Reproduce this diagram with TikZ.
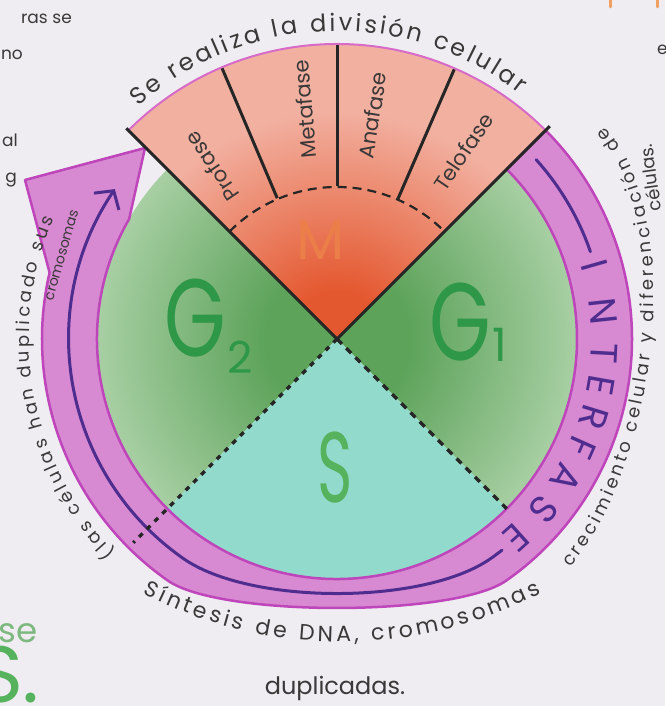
\documentclass[tikz,border=0pt]{standalone}
\usepackage{fontspec}
\setmainfont{Poppins}
\usetikzlibrary{decorations.text,arrows.meta,calc}
\definecolor{paper}{HTML}{F0EDF2}
\definecolor{ink}{HTML}{3A3838}
\definecolor{Mlight}{HTML}{F2B0A0}
\definecolor{Mdark}{HTML}{E4582F}
\definecolor{Gdark}{HTML}{5DA35A}
\definecolor{Glight}{HTML}{D2E8CD}
\definecolor{Scol}{HTML}{92DBCC}
\definecolor{Sedge}{HTML}{A6E2D6}
\definecolor{ringfill}{HTML}{D78AD2}
\definecolor{ringedge}{HTML}{BE45BA}
\definecolor{arrowink}{HTML}{4F2D8E}
\definecolor{pinkarc}{HTML}{D66BC8}
\definecolor{Glabel}{HTML}{2E9748}
\definecolor{Slabel}{HTML}{56B25C}
\definecolor{Mlabel}{HTML}{EC7E4A}
\definecolor{fadegreen}{HTML}{7DB87F}
\definecolor{orangemark}{HTML}{F0A060}
\pgfdeclareradialshading{mshade}{\pgfpointorigin}{color(0bp)=(Mdark); color(4bp)=(Mdark); color(19bp)=(Mlight); color(50bp)=(Mlight)}
\pgfdeclareradialshading{gshade}{\pgfpointorigin}{color(0bp)=(Gdark); color(6bp)=(Gdark); color(28bp)=(Glight); color(50bp)=(Glight)}
\pgfdeclareradialshading{sshade}{\pgfpointorigin}{color(0bp)=(Scol); color(30bp)=(Scol); color(40bp)=(Sedge); color(50bp)=(Sedge)}
\newcommand\hwa{\fontsize{24}{28}\selectfont}
\newcommand\hwb{\fontsize{18}{21}\selectfont}
\newcommand\hwc{\fontsize{14}{17}\selectfont}
\newcommand\hwd{\fontsize{22}{26}\selectfont}
\begin{document}
\begin{tikzpicture}[x=1pt,y=1pt,
  blk/.style={draw=black!85, line width=3pt},
  sdash/.style={draw=black!85, line width=3.5pt, dash pattern=on 7pt off 6pt},
  phase/.style={text=ink, font=\fontsize{21}{24}\selectfont, inner sep=0pt},
  interf/.style={text=arrowink, font=\fontsize{38}{40}\selectfont, inner sep=0pt},
  biglabel/.style={inner sep=0pt},
  curved/.style={decorate, decoration={text along path, text color=ink, text align={fit to path}, text={#1}}},
  edgetxt/.style={text=ink, font=\fontsize{17}{20}\selectfont, inner sep=0pt}]
\useasboundingbox (0,0) rectangle (665,706);
\fill[paper] (0,0) rectangle (665,706);
\begin{scope}[shift={(337,367)}]
  % G1
  \begin{scope}
    \clip (0,0) -- (-45:240pt) arc[start angle=-45,end angle=45,radius=240pt] -- cycle;
    \shade[shading=gshade] (0,0) circle (300pt);
  \end{scope}
  % G2
  \begin{scope}
    \clip (0,0) -- (135:240pt) arc[start angle=135,end angle=225,radius=240pt] -- cycle;
    \shade[shading=gshade] (0,0) circle (300pt);
  \end{scope}
  % S
  \begin{scope}
    \clip (0,0) -- (-135:240pt) arc[start angle=-135,end angle=-45,radius=240pt] -- cycle;
    \shade[shading=sshade] (0,0) circle (300pt);
  \end{scope}
  % M
  \begin{scope}
    \clip (0,0) -- (45:295pt) arc[start angle=45,end angle=135,radius=295pt] -- cycle;
    \shade[shading=mshade] (0,0) circle (300pt);
  \end{scope}
  % ring arrow (outer edge slightly flattened at the bottom)
  \coordinate (flare) at (-312,159);
  \coordinate (tip) at (-192,191);
  \filldraw[fill=ringfill, draw=ringedge, line width=2.5pt, line join=round]
    (45:240pt) -- (45:295pt) arc[start angle=45,end angle=-55,radius=295pt]
    .. controls (117.1,-278.1) and (-117.1,-278.1) .. (-169.2,-241.6)
    arc[start angle=-125,end angle=-193,radius=295pt]
    -- (flare) -- (tip) -- (150:240pt)
    arc[start angle=150,end angle=405,radius=240pt] -- cycle;
  % inner purple arrow line
  \draw[arrowink, line width=3pt, line cap=round]
    (42:268pt) arc[start angle=42,end angle=19,radius=268pt];
  \draw[arrowink, line width=3pt, line cap=round, -{Straight Barb[length=13pt,width=30pt,line width=3pt]}]
    (-52:268pt) arc[start angle=-52,end angle=-55,radius=268pt]
    .. controls (87.1,-266.2) and (-87.1,-266.2) .. (-153.7,-219.5)
    arc[start angle=-125,end angle=-214,radius=268pt];
  % INTERFASE
  \foreach \l/\a [count=\i] in {I/16,N/6,T/-3,E/-10,R/-17,F/-24,A/-31.3,S/-39.5,E/-48}
    \node[interf, rotate=\a-90] (if\i) at (\a:268pt) {\l};
  % M sector lines
  \draw[pinkarc, line width=2pt] (45:295pt) arc[start angle=45,end angle=135,radius=295pt];
  \draw[blk] (0,0) -- (45:301pt);
  \draw[blk] (0,0) -- (135:298pt);
  \foreach \a in {113,90,66.5}
    \draw[blk] (\a:153pt) -- (\a:294pt);
  \draw[draw=black!85, line width=2.2pt, dash pattern=on 9pt off 6pt]
    (135:152pt) arc[start angle=135,end angle=45,radius=152pt];
  % S boundaries
  \draw[sdash] (0,0) -- (-45:240pt);
  \draw[sdash, dash pattern=on 5pt off 6pt] (0,0) -- (-135:288pt);
  % phase labels
  \node[phase, rotate=124] (pro) at (126:213pt) {Profase};
  \node[phase, rotate=95] (met) at (98:232pt) {Metafase};
  \node[phase, rotate=81] (ana) at (81:226pt) {Anafase};
  \node[phase, rotate=56] (tel) at (56:226pt) {Telofase};
  % big labels
  \node[biglabel, text=Mlabel, font=\fontsize{56}{56}\selectfont] (mlab) at (-16,99) {M};
  \node[biglabel, text=Glabel, font=\fontsize{110}{110}\selectfont, xscale=0.72] (g2) at (-142,21) {G};
  \node[biglabel, text=Glabel, font=\fontsize{44}{44}\selectfont] (g2s) at (-97,-18) {2};
  \node[biglabel, text=Glabel, font=\fontsize{110}{110}\selectfont, xscale=0.72] (g1) at (123,17) {G};
  \node[biglabel, text=Glabel, font=\fontsize{46}{46}\selectfont] (g1s) at (163,-6) {1};
  \node[biglabel, text=Slabel, font=\fontsize{100}{100}\selectfont, xscale=0.6] (slab) at (-2,-129) {S};
  % curved texts
  \path[curved={|\hwa|Se realiza la división celular}]
    ($(0,12)+(132:296pt)$) arc[start angle=132,end angle=52,radius=296pt];
  \path[curved={|\hwd|Síntesis de DNA, cromosomas}]
    ($(5,129)+(-117.5:432pt)$) arc[start angle=-117.5,end angle=-62.5,radius=432pt];
  \path[curved={|\hwb|(las células han duplicado sus}]
    (224:308pt) arc[start angle=224,end angle=157,radius=308pt];
  \node[text=ink, font=\hwc, inner sep=0pt, rotate=74] (crom) at (-275,84) {cromosomas};
  \node[text=ink, font=\fontsize{18}{21}\selectfont, inner sep=0pt, rotate=98] (cel) at (313,161) {células.};
\end{scope}
% right side text along a hand-drawn curve
\path[curved={|\hwb|crecimiento celular y diferenciación de}]
  (570,139) .. controls (655,236) and (690,486) .. (605,579);
\node[text=ink, font=\fontsize{24}{28}\selectfont, inner sep=0pt] (dup) at (335,18) {duplicadas.};
% cut-off fragments at the edges
\node[edgetxt, anchor=base east] (f1) at (72,682) {ras se};
\node[edgetxt, anchor=base east] (f2) at (23,646) {no};
\node[edgetxt, anchor=base east] (f3) at (18,559) {al};
\node[edgetxt, anchor=base east] (f4) at (17,523) {g};
\node[edgetxt, anchor=base west] (f5) at (657,651) {e};
\node[text=fadegreen, font=\fontsize{34}{34}\selectfont, inner sep=0pt, anchor=base east] (f6) at (38,63) {se};
\node[text=Slabel, font=\fontsize{80}{80}\selectfont, inner sep=0pt, anchor=north east] (f7) at (40,60) {S.};
\draw[orangemark, line width=3pt, line cap=round] (610,706) -- (610,699);
\draw[orangemark, line width=3pt, line cap=round] (657,706) -- (657,699);
\end{tikzpicture}
\end{document}
